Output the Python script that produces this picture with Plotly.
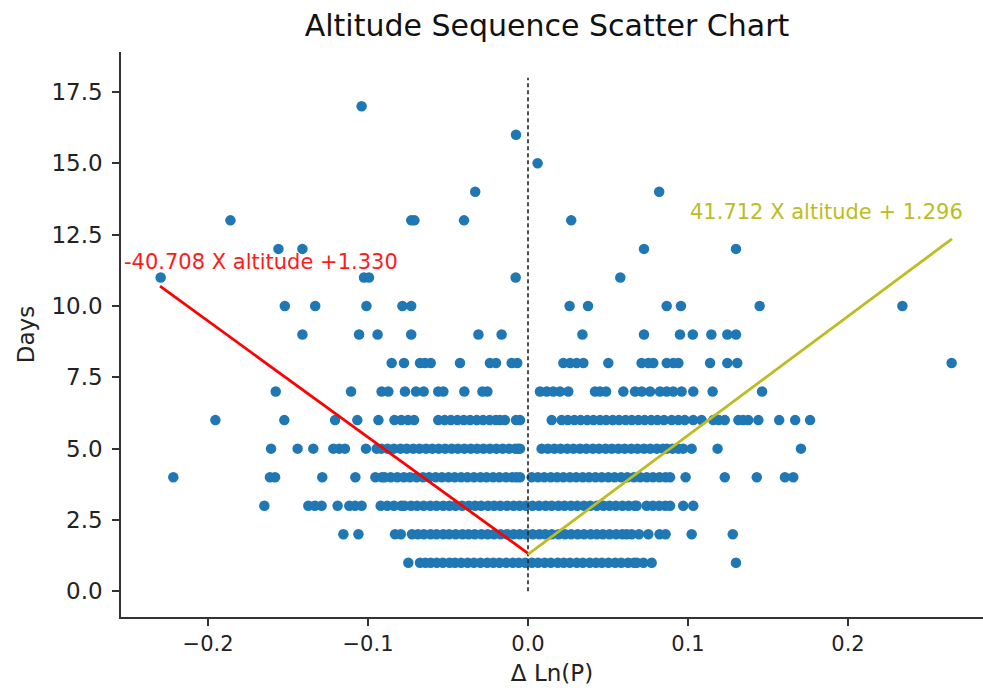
import plotly.graph_objects as go

# x values (Δ Ln(P)) of the points on each integer "Days" row
row_1 = [-0.0748, -0.0675, -0.0641, -0.0608, -0.0570, -0.0532, -0.0490,
         -0.0456, -0.0418, -0.0377, -0.0338, -0.0297, -0.0255, -0.0217, -0.0178,
         -0.0136, -0.0095, -0.0058, -0.0017, 0.0025, 0.0063, 0.0104, 0.0143,
         0.0186, 0.0223, 0.0262, 0.0305, 0.0343, 0.0386, 0.0425, 0.0462, 0.0503,
         0.0545, 0.0583, 0.0626, 0.0663, 0.0680, 0.0721, 0.0773, 0.1300]
row_2 = [-0.1154, -0.1060, -0.0831, -0.0795,
         -0.0725, -0.0688, -0.0651, -0.0609, -0.0572, -0.0530, -0.0493, -0.0452,
         -0.0410, -0.0372, -0.0333, -0.0291, -0.0252, -0.0213, -0.0171, -0.0132,
         -0.0090, -0.0052, -0.0011, 0.0030, 0.0071, 0.0108, 0.0149, 0.0192,
         0.0231, 0.0270, 0.0311, 0.0350, 0.0392, 0.0430, 0.0468, 0.0510, 0.0551,
         0.0590, 0.0617, 0.0648, 0.0694, 0.0752, 0.0822, 0.0860, 0.1023, 0.1280]
row_3 = [-0.1648, -0.1373, -0.1332, -0.1290, -0.1190, -0.1117, -0.1081, -0.1040,
         -0.0921, -0.0880, -0.0838, -0.0792,
         -0.0773, -0.0731, -0.0693, -0.0652, -0.0611, -0.0572, -0.0530, -0.0491,
         -0.0453, -0.0412, -0.0370, -0.0331, -0.0293, -0.0250, -0.0212, -0.0173,
         -0.0131, -0.0090, -0.0052, -0.0012, 0.0028, 0.0069, 0.0110, 0.0148,
         0.0190, 0.0228, 0.0269, 0.0308, 0.0350, 0.0389, 0.0430, 0.0471, 0.0510,
         0.0549, 0.0590, 0.0629, 0.0668, 0.0679,
         0.0742, 0.0781, 0.0820, 0.0858, 0.0888, 0.0970, 0.1033]
row_4 = [-0.2217, -0.1613, -0.1581, -0.1286, -0.1079, -0.0954, -0.0913,
         -0.0896, -0.0858, -0.0817, -0.0776, -0.0738, -0.0697, -0.0656, -0.0618,
         -0.0577, -0.0538, -0.0497, -0.0458, -0.0418, -0.0379, -0.0338, -0.0297,
         -0.0259, -0.0218, -0.0179, -0.0138, -0.0099, -0.0073, -0.0050,
         0.0023, 0.0062, 0.0101, 0.0143, 0.0182, 0.0221, 0.0262, 0.0301, 0.0342,
         0.0381, 0.0422, 0.0461, 0.0502, 0.0541, 0.0582, 0.0621, 0.0662, 0.0701,
         0.0742, 0.0781, 0.0822, 0.0860, 0.0888, 0.0985, 0.1230, 0.1430,
         0.1606, 0.1658]
row_5 = [-0.1606, -0.1440, -0.1342, -0.1217, -0.1180, -0.1144, -0.1013, -0.0946,
         -0.0917, -0.0878, -0.0838, -0.0797, -0.0758, -0.0717, -0.0678, -0.0637,
         -0.0598, -0.0558, -0.0518, -0.0477, -0.0438, -0.0398, -0.0357, -0.0318,
         -0.0278, -0.0238, -0.0198, -0.0158, -0.0118, -0.0080, -0.0063, -0.0050,
         0.0085, 0.0124, 0.0165, 0.0204, 0.0245, 0.0284, 0.0325, 0.0364, 0.0405,
         0.0444, 0.0485, 0.0524, 0.0565, 0.0604, 0.0645, 0.0684, 0.0725, 0.0764,
         0.0805, 0.0844, 0.0867, 0.0903, 0.0940, 0.0970, 0.1023, 0.1185, 0.1706]
row_6 = [-0.1954, -0.1523, -0.1206, -0.1067, -0.0935, -0.0835, -0.0792, -0.0750,
         -0.0712, -0.0561, -0.0521, -0.0482, -0.0441, -0.0401, -0.0362, -0.0320,
         -0.0281, -0.0240, -0.0201, -0.0175, -0.0144, -0.0075, -0.0050,
         0.0148, 0.0210, 0.0249, 0.0290, 0.0329, 0.0370, 0.0409, 0.0450, 0.0489,
         0.0530, 0.0569, 0.0610, 0.0649, 0.0690, 0.0729, 0.0770, 0.0809, 0.0850,
         0.0898, 0.0940, 0.0980, 0.1033, 0.1085, 0.1158, 0.1192, 0.1230, 0.1315,
         0.1345, 0.1377, 0.1440, 0.1570, 0.1670, 0.1763]
row_7 = [-0.1577, -0.1106, -0.0915, -0.0873, -0.0769, -0.0700, -0.0652, -0.0561,
         -0.0529, -0.0398, -0.0285, -0.0254,
         0.0075, 0.0117, 0.0158, 0.0200, 0.0252, 0.0419, 0.0450, 0.0488, 0.0596,
         0.0669, 0.0711, 0.0763, 0.0825, 0.0867, 0.0908, 0.0960, 0.1033, 0.1154,
         0.1463]
row_8 = [-0.0852, -0.0775, -0.0675, -0.0644, -0.0608, -0.0425, -0.0238, -0.0200,
         -0.0102, -0.0067, 0.0221, 0.0263, 0.0304, 0.0346, 0.0502, 0.0710, 0.0752,
         0.0783, 0.0867, 0.0908, 0.0940, 0.1138, 0.1246, 0.1308, 0.2648]
row_9 = [-0.1410, -0.1056, -0.0940, -0.0730, -0.0310, -0.0165, 0.0340, 0.0725,
         0.0950, 0.1030, 0.1146, 0.1246, 0.1300]
row_10 = [-0.1520, -0.1330, -0.1010, -0.0785, -0.0730, 0.0260, 0.0375, 0.0867,
          0.0956, 0.1448, 0.2340]
row_11 = [-0.2296, -0.1025, -0.0994, -0.0077, 0.0577]
row_12 = [-0.1560, -0.1410, 0.0725, 0.1300]
row_13 = [-0.1860, -0.0730, -0.0710, -0.0400, 0.0270]
row_14 = [-0.0330, 0.0820]
row_15 = [0.0060]
row_16 = [-0.0075]
row_17 = [-0.1040]

rows = {1: row_1, 2: row_2, 3: row_3, 4: row_4, 5: row_5, 6: row_6, 7: row_7,
        8: row_8, 9: row_9, 10: row_10, 11: row_11, 12: row_12, 13: row_13,
        14: row_14, 15: row_15, 16: row_16, 17: row_17}

# regression lines
neg_slope, neg_icpt = -40.708, 1.330
pos_slope, pos_icpt = 41.712, 1.296
neg_x = [-0.23, 0.0]
pos_x = [0.0, 0.265]
zero_line_y = [0, 18]

xs, ys = [], []
for d, vals in rows.items():
    xs += vals
    ys += [d] * len(vals)

FONT = "DejaVu Sans"
fig = go.Figure()
fig.add_trace(go.Scatter(x=xs, y=ys, mode="markers",
                         marker=dict(color="#1f77b4", size=10.5, line=dict(width=0)),
                         showlegend=False))
fig.add_trace(go.Scatter(x=[0, 0], y=zero_line_y, mode="lines",
                         line=dict(color="#222222", width=1.6, dash="4px,3px"),
                         showlegend=False))
fig.add_trace(go.Scatter(x=neg_x, y=[neg_slope * v + neg_icpt for v in neg_x],
                         mode="lines", line=dict(color="#ff0000", width=2.8),
                         showlegend=False))
fig.add_trace(go.Scatter(x=pos_x, y=[pos_slope * v + pos_icpt for v in pos_x],
                         mode="lines", line=dict(color="#bcbd22", width=2.8),
                         showlegend=False))

fig.add_annotation(x=-0.254, y=11.54, xref="x", yref="y", text="-40.708 X altitude +1.330",
                   showarrow=False, xanchor="left", yanchor="middle",
                   font=dict(family=FONT, size=21, color="#ff1a1a"))
fig.add_annotation(x=0.1, y=13.3, xref="x", yref="y", text="41.712 X altitude + 1.296",
                   showarrow=False, xanchor="left", yanchor="middle",
                   font=dict(family=FONT, size=21, color="#bcbd22"))

fig.update_layout(
    width=983, height=693,
    margin=dict(l=121, r=0, t=52, b=76),
    paper_bgcolor="white", plot_bgcolor="white",
    font=dict(family=FONT, color="#222222"),
    title=dict(text="Altitude Sequence Scatter Chart", x=547 / 983, xanchor="center",
               y=1 - 25 / 693, yanchor="middle", font=dict(family=FONT, size=30, color="#111111")),
)
fig.update_xaxes(range=[-0.2544, 0.2844], tickvals=[-0.2, -0.1, 0.0, 0.1, 0.2],
                 ticktext=["\u22120.2", "\u22120.1", "0.0", "0.1", "0.2"],
                 showgrid=False, zeroline=False, showline=True, linecolor="#333333", linewidth=1.5,
                 ticks="outside", ticklen=7, tickwidth=1.5, tickcolor="#333333",
                 tickfont=dict(family=FONT, size=21, color="#222222"),
                 title=dict(text="\u0394 Ln(P)", font=dict(family=FONT, size=23, color="#222222"), standoff=10))
fig.update_yaxes(range=[-0.9, 18.9], tickvals=[0, 2.5, 5, 7.5, 10, 12.5, 15, 17.5],
                 ticktext=["0.0", "2.5", "5.0", "7.5", "10.0", "12.5", "15.0", "17.5"],
                 showgrid=False, zeroline=False, showline=True, linecolor="#333333", linewidth=1.5,
                 ticks="outside", ticklen=7, tickwidth=1.5, tickcolor="#333333",
                 ticklabelstandoff=5,
                 tickfont=dict(family=FONT, size=23, color="#222222"),
                 title=dict(text="Days", font=dict(family=FONT, size=23, color="#222222"), standoff=10))

fig.write_html("out.html")
